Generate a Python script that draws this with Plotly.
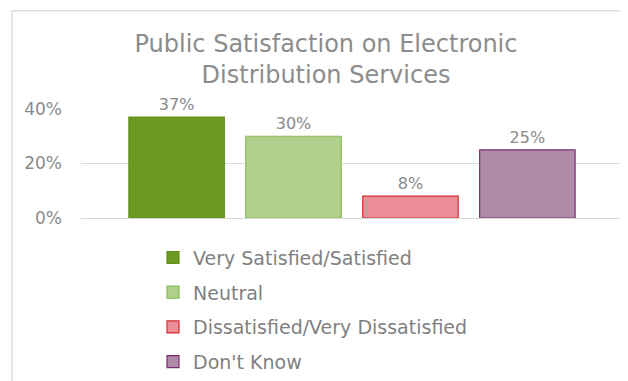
import plotly.graph_objects as go

# Survey results (share of respondents)
categories = ["Very Satisfied/Satisfied", "Neutral",
              "Dissatisfied/Very Dissatisfied", "Don't Know"]
values = [0.37, 0.30, 0.08, 0.25]
tick_values = [0, 0.2, 0.4]
tick_labels = ["0%", "20%", "40%"]

fills = ["#6a9a1f", "#b0d08d", "#ec8e99", "#ae8ca8"]
edges = ["#5f8e1a", "#86bd52", "#d9282d", "#7a2d6e"]

# page body adds an 8px offset, so the figure is laid out 8px up/left
W, H = 620, 373
L, T = 73, 101
PLOT_W, PLOT_H = 542, 109.3

fig = go.Figure()

for i, (name, val) in enumerate(zip(categories, values)):
    fig.add_trace(go.Bar(
        x=["All"],
        y=[val],
        name=name,
        legendgroup=name,
        marker=dict(color=fills[i], line=dict(color=edges[i], width=1.2)),
        text=[f"{val:.0%}"],
        textposition="outside",
        textfont=dict(size=16, color="#8a8a8a"),
        cliponaxis=False,
    ))

# chart frame: only the top and left edges fall inside the picture
frame_left = (4 - L) / PLOT_W
frame_top = (T + PLOT_H - 2.5) / PLOT_H
frame = dict(color="#dcdcdc", width=1.5)

fig.update_layout(
    width=W,
    height=H,
    paper_bgcolor="white",
    plot_bgcolor="white",
    font=dict(family="DejaVu Sans", color="#7f7f7f"),
    title=dict(
        text="Public Satisfaction on Electronic<br>Distribution Services",
        x=318 / W, xanchor="center",
        y=1 - 43.5 / H, yanchor="middle",
        font=dict(size=24, color="#8c8c8c"),
    ),
    barmode="group",
    bargap=0.137,
    bargroupgap=0.184,
    margin=dict(l=L, r=W - L - PLOT_W, t=T, b=H - T - PLOT_H, autoexpand=False),
    xaxis=dict(showticklabels=False, showgrid=False, zeroline=False,
               range=[-0.5, 0.5], automargin=False),
    yaxis=dict(
        range=[0, 0.4],
        tickvals=tick_values,
        ticktext=tick_labels,
        showgrid=True,
        gridcolor="#d9d9d9",
        gridwidth=1,
        zeroline=True,
        zerolinecolor="#d9d9d9",
        zerolinewidth=1,
        tickfont=dict(size=17, color="#8a8a8a"),
        ticklabelstandoff=18,
        automargin=False,
    ),
    showlegend=True,
    legend=dict(
        x=(145 - L) / PLOT_W, xanchor="left",
        y=-(231 - (T + PLOT_H)) / PLOT_H, yanchor="top",
        font=dict(size=19, color="#7f7f7f"),
        tracegroupgap=7,
        itemwidth=30,
        bgcolor="rgba(0,0,0,0)",
    ),
    shapes=[
        dict(type="line", xref="paper", yref="paper", layer="below",
             x0=frame_left, x1=1.2, y0=frame_top, y1=frame_top, line=frame),
        dict(type="line", xref="paper", yref="paper", layer="below",
             x0=frame_left, x1=frame_left, y0=-2.0, y1=frame_top, line=frame),
    ],
)

fig.write_html("out.html")
